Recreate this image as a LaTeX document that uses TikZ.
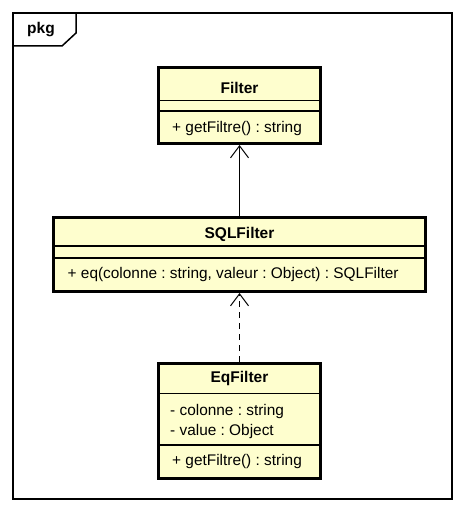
\documentclass[tikz,border=0pt]{standalone}
\usepackage{fontspec}
\setmainfont{Liberation Sans}
\usetikzlibrary{arrows.meta,calc}
\definecolor{classfill}{HTML}{FEFECE}
\tikzset{
  classbox/.style={draw=black, fill=classfill, line width=2.8pt, rectangle, inner sep=0pt},
  sepline/.style={draw=black, line width=1.1pt},
  title/.style={font=\fontsize{15.5pt}{17pt}\selectfont\bfseries, inner sep=0pt},
  member/.style={font=\fontsize{15.4pt}{17pt}\selectfont\frenchspacing, inner sep=0pt, anchor=west},
  conn/.style={line width=1pt, -{Straight Barb[length=12pt,width=18pt,line width=1pt]}},
}
\begin{document}
\frenchspacing
\begin{tikzpicture}[x=1pt,y=-1pt]
\useasboundingbox (0,0) rectangle (465,513);
% package frame
\draw[line width=1.5pt] (13,13) rectangle (452,499);
\draw[line width=1.5pt] (76,13) -- (76,33) -- (62,46) -- (13,46);
\node[title] (pkg) at (41,30) {pkg};

% Filter
\node[classbox, minimum width=162.2pt, minimum height=76.2pt] (filter) at (239.5,105.5) {};
\draw[sepline] (158.4,100.5) -- (320.6,100.5);
\draw[sepline] (158.4,111) -- (320.6,111);
\node[title] (filterT) at (239.5,88) {Filter};
\node[member] (filterM) at (172,128.5) {+ getFiltre() : string};

% SQLFilter
\node[classbox, minimum width=372.2pt, minimum height=74.2pt] (sql) at (239.5,254.5) {};
\draw[sepline] (53.4,246) -- (425.6,246);
\draw[sepline] (53.4,258) -- (425.6,258);
\node[title] (sqlT) at (239.5,234.5) {SQLFilter};
\node[member] (sqlM) at (67.5,275) {+ eq(colonne : string, valeur : Object) : SQLFilter};

% EqFilter
\node[classbox, minimum width=162.2pt, minimum height=115.2pt] (eq) at (239.5,421) {};
\draw[sepline] (158.4,393.5) -- (320.6,393.5);
\draw[sepline] (158.4,445) -- (320.6,445);
\node[title] (eqT) at (239.5,378) {EqFilter};
\node[member] (eqA1) at (170,412) {- colonne : string};
\node[member] (eqA2) at (170,432) {- value : Object};
\node[member] (eqM) at (172,462) {+ getFiltre() : string};

% connectors
\draw[conn] (sql.north) -- (filter.south);
\draw[conn, dash pattern=on 6pt off 5pt] (eq.north) -- (sql.south);
\end{tikzpicture}
\end{document}
